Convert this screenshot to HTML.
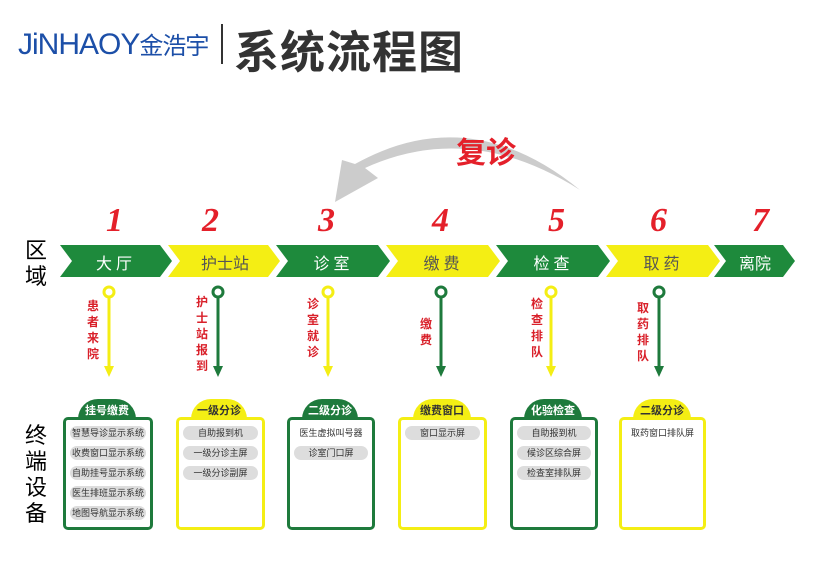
<!DOCTYPE html>
<html><head><meta charset="utf-8"><style>
body{margin:0;width:813px;height:562px;background:#fff;position:relative;overflow:hidden;font-family:"Liberation Sans","Noto Sans CJK SC",sans-serif}
.a{position:absolute}
.box{position:absolute;top:417px;height:113px;border:3px solid;border-radius:5px;box-sizing:border-box;background:#fff}
.tab{position:absolute;top:399px;height:22px;border-radius:20px 20px 0 0;text-align:center;font-size:11px;font-weight:bold;line-height:24px}
.pill{background:#ddd;border-radius:8px;font-size:9px;color:#333;text-align:center;height:14px;line-height:14px;margin:6px 4px 0}
.v{position:absolute;font-size:12px;font-weight:bold;color:#d9202a;width:14px;line-height:16px;text-align:center}
.num{position:absolute;top:202px;font:italic bold 34px "Liberation Serif",serif;color:#e4202a}
</style></head><body>
<div class="a" style="left:18px;top:26px;font-size:30px;color:#1c4fa8;letter-spacing:-1px">JiNHAOY<span style="font-size:24px">金浩宇</span></div>
<div class="a" style="left:221px;top:24px;width:2px;height:40px;background:#333"></div>
<div class="a" style="left:234px;top:16px;font-size:45px;color:#333;font-weight:bold;letter-spacing:1px">系统流程图</div>
<svg class="a" style="left:0;top:0" width="813" height="562">
<path d="M580,190 Q470,120 365,168 L378,178 L335,202 L342,160 L355,164 Q470,100 580,190Z" fill="#ccc"/>
<polygon points="60,245 160,245 172,261 160,277 60,277 72,261" fill="#1e8a3c"/>
<polygon points="168,245 268,245 280,261 268,277 168,277 180,261" fill="#f4ee14"/>
<polygon points="276,245 378,245 390,261 378,277 276,277 288,261" fill="#1e8a3c"/>
<polygon points="386,245 488,245 500,261 488,277 386,277 398,261" fill="#f4ee14"/>
<polygon points="496,245 598,245 610,261 598,277 496,277 508,261" fill="#1e8a3c"/>
<polygon points="606,245 708,245 720,261 708,277 606,277 618,261" fill="#f4ee14"/>
<polygon points="714,245 783,245 795,261 783,277 714,277 726,261" fill="#1e8a3c"/>
<g stroke-width="3" fill="#fff">
<circle cx="109" cy="292" r="5" stroke="#f4ee14"/><line x1="109" y1="297" x2="109" y2="368" stroke="#f4ee14"/><polygon points="104,366 114,366 109,377" fill="#f4ee14" stroke="none"/>
<circle cx="218" cy="292" r="5" stroke="#1e7a3c"/><line x1="218" y1="297" x2="218" y2="368" stroke="#1e7a3c"/><polygon points="213,366 223,366 218,377" fill="#1e7a3c" stroke="none"/>
<circle cx="328" cy="292" r="5" stroke="#f4ee14"/><line x1="328" y1="297" x2="328" y2="368" stroke="#f4ee14"/><polygon points="323,366 333,366 328,377" fill="#f4ee14" stroke="none"/>
<circle cx="441" cy="292" r="5" stroke="#1e7a3c"/><line x1="441" y1="297" x2="441" y2="368" stroke="#1e7a3c"/><polygon points="436,366 446,366 441,377" fill="#1e7a3c" stroke="none"/>
<circle cx="551" cy="292" r="5" stroke="#f4ee14"/><line x1="551" y1="297" x2="551" y2="368" stroke="#f4ee14"/><polygon points="546,366 556,366 551,377" fill="#f4ee14" stroke="none"/>
<circle cx="659" cy="292" r="5" stroke="#1e7a3c"/><line x1="659" y1="297" x2="659" y2="368" stroke="#1e7a3c"/><polygon points="654,366 664,366 659,377" fill="#1e7a3c" stroke="none"/>
</g></svg>
<div class="a" style="left:456px;top:128px;font-size:30px;font-weight:bold;color:#e4202a">复诊</div>
<div class="num" style="left:106px">1</div><div class="num" style="left:202px">2</div><div class="num" style="left:318px">3</div><div class="num" style="left:432px">4</div><div class="num" style="left:548px">5</div><div class="num" style="left:650px">6</div><div class="num" style="left:752px">7</div>
<div class="a" style="top:250px;left:60px;width:112px;text-align:center;color:#fff;font-size:16px;letter-spacing:4px">大厅</div>
<div class="a" style="top:250px;left:170px;width:110px;text-align:center;color:#555;font-size:16px">护士站</div>
<div class="a" style="top:250px;left:277px;width:113px;text-align:center;color:#fff;font-size:16px;letter-spacing:4px">诊室</div>
<div class="a" style="top:250px;left:387px;width:113px;text-align:center;color:#555;font-size:16px;letter-spacing:4px">缴费</div>
<div class="a" style="top:250px;left:497px;width:113px;text-align:center;color:#fff;font-size:16px;letter-spacing:4px">检查</div>
<div class="a" style="top:250px;left:607px;width:113px;text-align:center;color:#555;font-size:16px;letter-spacing:4px">取药</div>
<div class="a" style="top:250px;left:715px;width:80px;text-align:center;color:#fff;font-size:16px">离院</div>
<div class="a" style="left:25px;top:238px;font-size:22px;line-height:26px;width:24px">区域</div>
<div class="a" style="left:25px;top:423px;font-size:22px;line-height:26px;width:24px">终端设备</div>
<div class="v" style="left:86px;top:298px">患者来院</div>
<div class="v" style="left:195px;top:294px">护士站报到</div>
<div class="v" style="left:306px;top:296px">诊室就诊</div>
<div class="v" style="left:419px;top:316px">缴费</div>
<div class="v" style="left:530px;top:296px">检查排队</div>
<div class="v" style="left:636px;top:300px">取药排队</div>
<div class="tab" style="left:78px;width:58px;background:#1e7a3c;color:#fff">挂号缴费</div>
<div class="box" style="left:63px;width:90px;border-color:#1e7a3c"><div class="pill">智慧导诊显示系统</div><div class="pill">收费窗口显示系统</div><div class="pill">自助挂号显示系统</div><div class="pill">医生排班显示系统</div><div class="pill">地图导航显示系统</div></div>
<div class="tab" style="left:191px;width:56px;background:#f4ee14;color:#333">一级分诊</div>
<div class="box" style="left:176px;width:89px;border-color:#f4ee14"><div class="pill">自助报到机</div><div class="pill">一级分诊主屏</div><div class="pill">一级分诊副屏</div></div>
<div class="tab" style="left:302px;width:56px;background:#1e7a3c;color:#fff">二级分诊</div>
<div class="box" style="left:287px;width:88px;border-color:#1e7a3c"><div class="pill" style="background:#fff">医生虚拟叫号器</div><div class="pill">诊室门口屏</div></div>
<div class="tab" style="left:413px;width:58px;background:#f4ee14;color:#333">缴费窗口</div>
<div class="box" style="left:398px;width:89px;border-color:#f4ee14"><div class="pill">窗口显示屏</div></div>
<div class="tab" style="left:524px;width:58px;background:#1e7a3c;color:#fff">化验检查</div>
<div class="box" style="left:510px;width:88px;border-color:#1e7a3c"><div class="pill">自助报到机</div><div class="pill">候诊区综合屏</div><div class="pill">检查室排队屏</div></div>
<div class="tab" style="left:633px;width:58px;background:#f4ee14;color:#333">二级分诊</div>
<div class="box" style="left:619px;width:87px;border-color:#f4ee14"><div class="pill" style="background:#fff">取药窗口排队屏</div></div>
</body></html>
